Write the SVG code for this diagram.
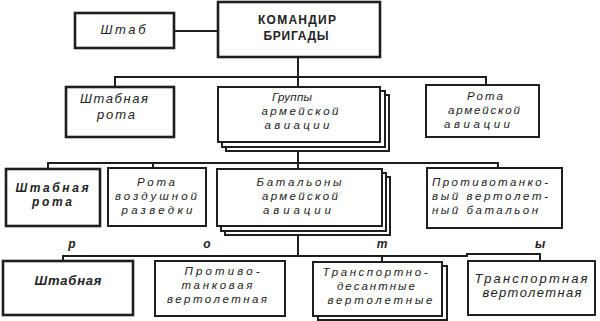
<svg xmlns="http://www.w3.org/2000/svg" width="600" height="321" viewBox="0 0 600 321">
<style>
.box{fill:#fff;stroke:#1e1e1e;stroke-width:2}
.bold{stroke-width:2.6}
.ln{fill:none;stroke:#1e1e1e;stroke-width:2}
text{font-family:"Liberation Sans","DejaVu Sans",sans-serif;fill:#222}
.it{font-style:italic;font-size:11.5px}
.bi{font-style:italic;font-weight:bold;font-size:12px}
.cmd{font-weight:bold;font-size:12px}
.lt{font-style:italic;font-weight:bold;font-size:12px}
</style>
<rect width="600" height="321" fill="#fff"/>
<g id="connectors">
<line class="ln" x1="174" y1="31" x2="218" y2="31"/>
<line class="ln" x1="298" y1="57" x2="298" y2="87"/>
<polyline class="ln" points="115,87 115,77 486,77 486,85"/>
<line class="ln" x1="298" y1="151" x2="298" y2="169"/>
<polyline class="ln" points="48,169 48,163 498,163 498,168"/>
<line class="ln" x1="153" y1="163" x2="153" y2="168"/>
<line class="ln" x1="298" y1="235" x2="298" y2="256"/>
<polyline class="ln" points="63,261 63,256 468,256"/>
<polyline class="ln" points="466,254 540,254 540,261"/>
<line class="ln" x1="382" y1="256" x2="382" y2="262"/>
</g>
<g id="letters">
<text class="lt" x="72" y="248" text-anchor="middle">р</text>
<text class="lt" x="207" y="248" text-anchor="middle">о</text>
<text class="lt" x="382" y="248" text-anchor="middle">т</text>
<text class="lt" x="540" y="248" text-anchor="middle">ы</text>
</g>
<g id="shtab">
<rect class="box bold" x="75" y="13" width="99" height="35"/>
<text class="it" x="123" y="34" text-anchor="middle" textLength="45" lengthAdjust="spacing" style="font-size:13px">Штаб</text>
</g>
<g id="commander">
<rect class="box bold" x="218" y="2" width="162" height="55"/>
<text class="cmd" x="297" y="24" text-anchor="middle" textLength="78" lengthAdjust="spacing">КОМАНДИР</text>
<text class="cmd" x="296" y="40" text-anchor="middle" textLength="65" lengthAdjust="spacing">БРИГАДЫ</text>
</g>
<g id="shtabnaya-rota-1">
<rect class="box bold" x="66" y="87" width="108" height="50"/>
<text class="it" x="114" y="103" text-anchor="middle" textLength="68" lengthAdjust="spacing" style="font-size:13px">Штабная</text>
<text class="it" x="116" y="119" text-anchor="middle" textLength="38" lengthAdjust="spacing" style="font-size:13px">рота</text>
</g>
<g id="gruppy">
<rect class="box" x="226" y="95" width="163" height="56"/>
<rect class="box" x="222" y="91" width="163" height="56"/>
<rect class="box" x="218" y="87" width="162" height="55"/>
<text class="it" x="292" y="101" text-anchor="middle" textLength="40" lengthAdjust="spacing">Группы</text>
<text class="it" x="300" y="115" text-anchor="middle" textLength="77" lengthAdjust="spacing">армейской</text>
<text class="it" x="297" y="129" text-anchor="middle" textLength="65" lengthAdjust="spacing">авиации</text>
</g>
<g id="rota-aa">
<rect class="box" x="426" y="85" width="113" height="52"/>
<text class="it" x="485" y="100" text-anchor="middle" textLength="36" lengthAdjust="spacing">Рота</text>
<text class="it" x="484" y="114" text-anchor="middle" textLength="72" lengthAdjust="spacing">армейской</text>
<text class="it" x="477" y="128" text-anchor="middle" textLength="66" lengthAdjust="spacing">авиации</text>
</g>
<g id="shtabnaya-rota-2">
<rect class="box bold" x="6" y="169" width="94" height="57"/>
<text class="bi" x="52" y="192" text-anchor="middle" textLength="73" lengthAdjust="spacing">Штабная</text>
<text class="bi" x="52" y="206" text-anchor="middle" textLength="40" lengthAdjust="spacing">рота</text>
</g>
<g id="rota-razvedki">
<rect class="box" x="108" y="168" width="98" height="58"/>
<text class="it" x="156" y="186" text-anchor="middle" textLength="38" lengthAdjust="spacing">Рота</text>
<text class="it" x="156" y="200" text-anchor="middle" textLength="82" lengthAdjust="spacing">воздушной</text>
<text class="it" x="157" y="214" text-anchor="middle" textLength="71" lengthAdjust="spacing">разведки</text>
</g>
<g id="batalony">
<rect class="box" x="225" y="177" width="165" height="58"/>
<rect class="box" x="221" y="173" width="165" height="58"/>
<rect class="box" x="217" y="169" width="165" height="57"/>
<text class="it" x="299" y="186" text-anchor="middle" textLength="85" lengthAdjust="spacing">Батальоны</text>
<text class="it" x="300" y="200" text-anchor="middle" textLength="76" lengthAdjust="spacing">армейской</text>
<text class="it" x="297" y="214" text-anchor="middle" textLength="68" lengthAdjust="spacing">авиации</text>
</g>
<g id="ptv-batalon">
<rect class="box" x="427" y="168" width="135" height="60"/>
<text class="it" x="432" y="186" textLength="116" lengthAdjust="spacing">Противотанко-</text>
<text class="it" x="432" y="200" textLength="116" lengthAdjust="spacing">вый вертолет-</text>
<text class="it" x="432" y="214" textLength="106" lengthAdjust="spacing">ный батальон</text>
</g>
<g id="shtabnaya-3">
<rect class="box bold" x="3" y="261" width="130" height="54"/>
<text class="bi" x="68" y="285" text-anchor="middle" textLength="67" lengthAdjust="spacing" style="font-size:13px">Штабная</text>
</g>
<g id="ptv-vert">
<rect class="box" x="155" y="261" width="130" height="55"/>
<text class="it" x="222" y="275" text-anchor="middle" textLength="75" lengthAdjust="spacing">Противо-</text>
<text class="it" x="217" y="289" text-anchor="middle" textLength="71" lengthAdjust="spacing">танковая</text>
<text class="it" x="217" y="303" text-anchor="middle" textLength="100" lengthAdjust="spacing">вертолетная</text>
</g>
<g id="tr-des">
<rect class="box" x="318" y="266" width="129" height="54"/>
<rect class="box" x="313" y="262" width="129" height="54"/>
<text class="it" x="375" y="276" text-anchor="middle" textLength="105" lengthAdjust="spacing">Транспортно-</text>
<text class="it" x="376" y="290" text-anchor="middle" textLength="78" lengthAdjust="spacing">десантные</text>
<text class="it" x="380" y="304" text-anchor="middle" textLength="105" lengthAdjust="spacing">вертолетные</text>
</g>
<g id="tr-vert">
<rect class="box" x="468" y="261" width="127" height="54"/>
<text class="it" x="531" y="283" text-anchor="middle" textLength="113" lengthAdjust="spacing" style="font-size:13px">Транспортная</text>
<text class="it" x="532" y="297" text-anchor="middle" textLength="99" lengthAdjust="spacing" style="font-size:13px">вертолетная</text>
</g>
</svg>
